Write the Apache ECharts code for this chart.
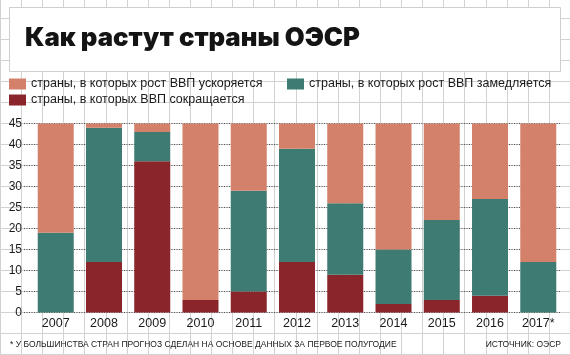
<!DOCTYPE html>
<html>
<head>
<meta charset="utf-8">
<script src="https://cdn.jsdelivr.net/npm/echarts@6/dist/echarts.min.js"></script>
<style>
  html, body { margin: 0; padding: 0; background: #ffffff; }
  #chart { width: 570px; height: 355px; }
</style>
</head>
<body>
<div id="chart"></div>
<script>
// ---- data ----
const years = ['2007', '2008', '2009', '2010', '2011', '2012', '2013', '2014', '2015', '2016', '2017*'];
const shrinking = [0, 12, 36, 3, 5, 12, 9, 2, 3, 4, 0];        // ВВП сокращается
const slowing = [19, 32, 7, 0, 24, 27, 17, 13, 19, 23, 12];    // рост ВВП замедляется
const accelerating = [26, 1, 2, 42, 16, 6, 19, 30, 23, 18, 33]; // рост ВВП ускоряется
const yMin = 0, yMax = 45, yStep = 5;

const names = {
  acc: 'страны, в которых рост ВВП ускоряется',
  slow: 'страны, в которых рост ВВП замедляется',
  shrink: 'страны, в которых ВВП сокращается'
};
const colors = { acc: '#D3816B', slow: '#3E7B72', shrink: '#8A252B' };

const W = 570, H = 355;
const chart = echarts.init(document.getElementById('chart'), null, { renderer: 'canvas', width: W, height: H });

// background graph-paper lines
const bg = [];
const gridColor = '#d2d2d2';
for (let k = 0; k <= 27; k++) {
  const x = Math.round(k * W / 27) + 0.5;
  bg.push({ type: 'line', z: -2, silent: true, shape: { x1: x, y1: 0, x2: x, y2: H }, style: { stroke: gridColor, lineWidth: 1 } });
}
for (let y = 123.5 - 21 * 6; y < H; y += 21) {
  bg.push({ type: 'line', z: -2, silent: true, shape: { x1: 0, y1: y, x2: W, y2: y }, style: { stroke: gridColor, lineWidth: 1 } });
}
bg.push({ type: 'rect', z: -1, silent: true, shape: { x: 9.5, y: 7.5, width: 551, height: 64 }, style: { fill: '#ffffff', stroke: '#cfcfcf', lineWidth: 1 } });
bg.push({ type: 'text', z: 10, left: 10, top: 340.5, style: { text: '* У БОЛЬШИНСТВА СТРАН ПРОГНОЗ СДЕЛАН НА ОСНОВЕ ДАННЫХ ЗА ПЕРВОЕ ПОЛУГОДИЕ', font: '8.5px "Liberation Sans", Arial, sans-serif', fill: '#1a1a1a' } });
bg.push({ type: 'text', z: 10, right: 9, top: 340.5, style: { text: 'ИСТОЧНИК: ОЭСР', font: '8.5px "Liberation Sans", Arial, sans-serif', fill: '#1a1a1a' } });

const legendBase = {
  itemWidth: 17, itemHeight: 11, itemGap: 0, padding: 0, icon: 'rect',
  textStyle: { fontSize: 12.5, color: '#1a1a1a', fontFamily: '"Liberation Sans", Arial, sans-serif', padding: [0, 0, 0, 0] }
};

const option = {
  animation: false,
  backgroundColor: 'transparent',
  title: {
    text: 'Как растут страны ОЭСР',
    left: 25, top: 25.5, padding: 0,
    textStyle: { fontSize: 25.7, fontWeight: 900, color: '#141414', fontFamily: 'Inter, "Liberation Sans", Arial, sans-serif' }
  },
  graphic: bg,
  legend: [
    Object.assign({}, legendBase, { left: 9, top: 77.5, data: [names.acc] }),
    Object.assign({}, legendBase, { left: 287, top: 77.5, data: [names.slow] }),
    Object.assign({}, legendBase, { left: 9, top: 93.5, data: [names.shrink] })
  ],
  grid: [
    { left: 24, right: 10, top: 123.5, bottom: 42.5 },
    { left: 31.6, right: 7.6, top: 123.5, bottom: 42.5 }
  ],
  xAxis: [
    { gridIndex: 0, type: 'value', min: 0, max: 1, show: false },
    {
      gridIndex: 1, type: 'category', data: years,
      axisLine: { show: false }, axisTick: { show: false },
      axisLabel: { margin: 4.5, fontSize: 12.5, color: '#1a1a1a', fontFamily: '"Liberation Sans", Arial, sans-serif' }
    }
  ],
  yAxis: [
    {
      gridIndex: 0, type: 'value', min: yMin, max: yMax, interval: yStep,
      axisLine: { show: false }, axisTick: { show: false },
      axisLabel: { margin: 2, fontSize: 12, color: '#1a1a1a', fontFamily: '"Liberation Sans", Arial, sans-serif' },
      splitLine: { show: true, lineStyle: { color: '#555555', width: 1, type: [1, 1.5] } }
    },
    { gridIndex: 1, type: 'value', min: yMin, max: yMax, interval: yStep, show: false, splitLine: { show: false } }
  ],
  series: [
    { name: names.shrink, type: 'bar', stack: 'all', xAxisIndex: 1, yAxisIndex: 1, barWidth: 36, data: shrinking, itemStyle: { color: colors.shrink } },
    { name: names.slow, type: 'bar', stack: 'all', xAxisIndex: 1, yAxisIndex: 1, barWidth: 36, data: slowing, itemStyle: { color: colors.slow } },
    { name: names.acc, type: 'bar', stack: 'all', xAxisIndex: 1, yAxisIndex: 1, barWidth: 36, data: accelerating, itemStyle: { color: colors.acc } }
  ]
};
chart.setOption(option);
</script>
</body>
</html>
